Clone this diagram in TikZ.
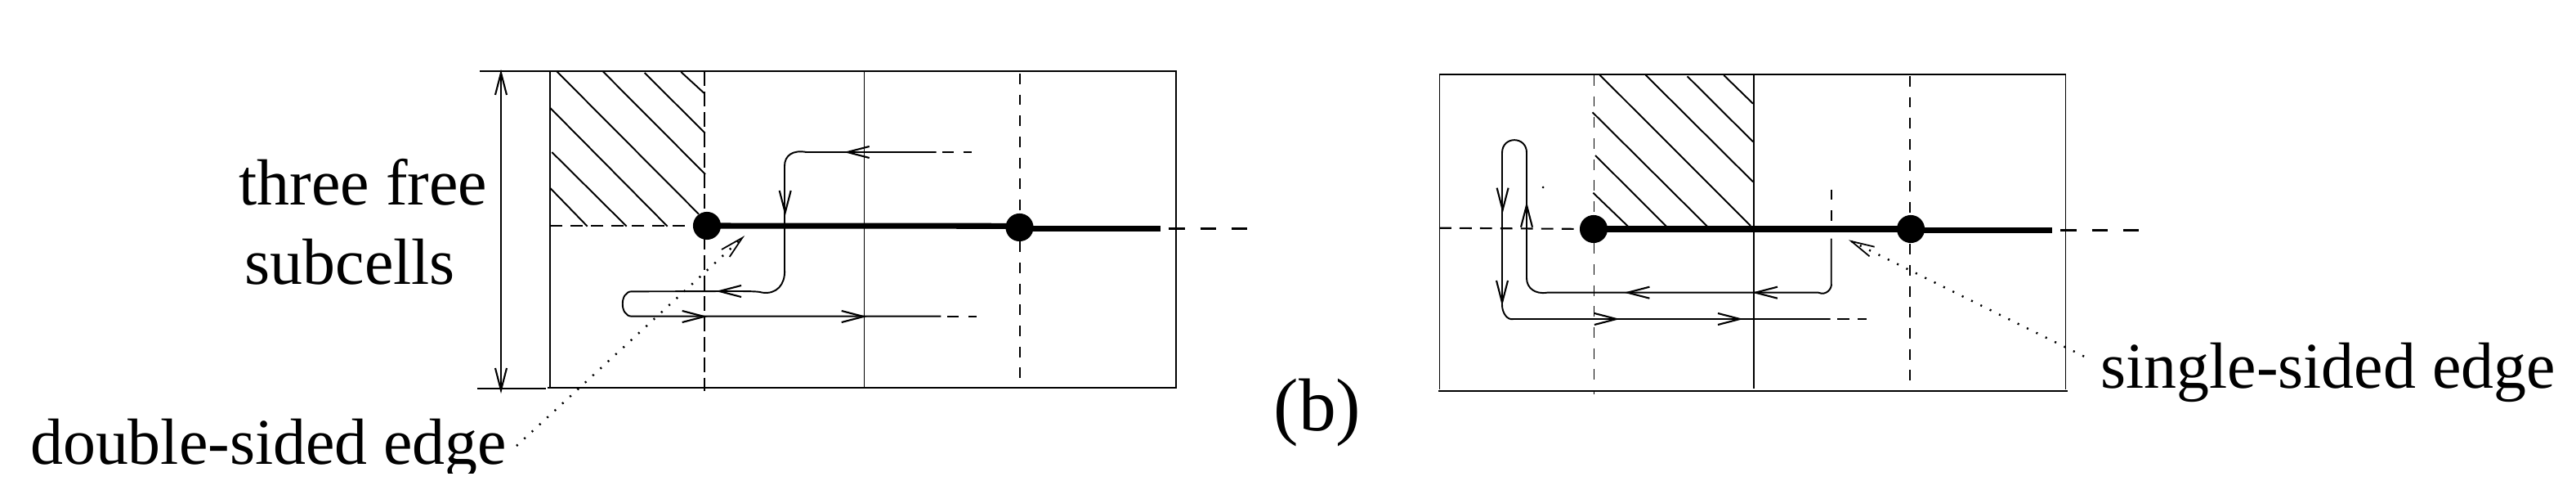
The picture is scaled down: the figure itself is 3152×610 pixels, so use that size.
\documentclass[tikz,border=0pt]{standalone}
\usepackage{fontspec}
\setmainfont{Liberation Serif}
\newcommand{\vhead}[3]{\draw[headline,shift={(#1,#2)},rotate=#3] (-27,-7) -- (0,0) -- (-27,7);}
\tikzset{
  box/.style={line width=0.75pt},
  hairline/.style={line width=0.5pt},
  midline/.style={line width=0.6pt},
  dashthin/.style={line width=0.5pt,dash pattern=on 3.65pt off 3.65pt},
  dashthicka/.style={line width=0.7pt,dash pattern=on 5.2pt off 1.9pt},
  dashthickb/.style={line width=0.7pt,dash pattern=on 3.65pt off 3.65pt},
  hdash/.style={line width=0.6pt,dash pattern=on 4.2pt off 2.9pt},
  thickedge/.style={line width=2pt},
  enddash/.style={line width=1pt,dash pattern=on 5.6pt off 5.4pt},
  hatch/.style={line width=0.55pt},
  route/.style={line width=0.55pt},
  headline/.style={line width=0.6pt},
  dotted line/.style={line width=0.7pt,dash pattern=on 0.6pt off 3pt},
  vertex/.style={circle,fill=black,minimum size=9.7pt,inner sep=0pt},
  label/.style={font=\fontsize{22.7}{26}\selectfont,inner sep=0pt,anchor=base west},
}
\begin{document}
\begin{tikzpicture}[x=0.01cm,y=-0.01cm]
\useasboundingbox (0,0) rectangle (3152,610);
% left
\draw[box] (587,87) -- (1439,87) -- (1439,474) -- (670,474);
\draw[box] (584,475) -- (668,475);
\draw[hairline] (673,87) -- (673,474);
\draw[hairline] (1057.5,87) -- (1057.5,474);
\draw[dashthicka] (862,87) -- (862,478);
\draw[dashthin] (1248,90) -- (1248,464);
\coordinate (arrT) at (613,89);
\coordinate (arrB) at (613,477);
\draw[hairline] (arrT) -- (arrB);
\vhead{613}{89}{90}
\vhead{613}{477}{-90}
\foreach \a/\b/\c/\d in {680.7/86.7/855/261.7,737.7/87.3/863/213,788.7/89/862.7/162.7,833.3/88/861.7/114,673.3/132/816.7/276.7,675.3/186/766.7/276.7,673.3/230/718.7/276.7}
  \draw[hatch] (\a,\b) -- (\c,\d);
\node[vertex] (a1) at (865,276) {};
\node[vertex] (a2) at (1247.5,278) {};
\coordinate (a0) at (673,276);
\coordinate (a3) at (1420,279.3);
\coordinate (a4) at (1526,279.3);
\draw[hdash] (a0) -- (a1);
\draw[thickedge] (a1.center) -- (1247.5,276.3);
\draw[thickedge] (a2.center |- a3) -- (a3);
\draw[enddash] (1430,279.3) -- (a4);
\draw[route] (1145.7,186) -- (986.7,186) .. controls (970,183) and (960,190) .. (960,203) -- (960,330)
  .. controls (961,348) and (950,360) .. (933,357.7) .. controls (925,355) and (900,356.3) .. (773,356.3)
  .. controls (758,356.3) and (758,386.7) .. (773,386.7) -- (1151.4,386.7);
\draw[midline] (1153,186) -- (1167,186) (1178.6,186) -- (1188.6,186);
\draw[midline] (1159,387) -- (1173,387) (1185,387) -- (1195,387);
\vhead{960.7}{260}{-90}
\vhead{880}{356}{180}
\vhead{861.7}{387}{0}
\vhead{1056.7}{387}{0}
\vhead{1036.7}{186}{180}
\coordinate (dt1) at (908.3,290.7);
\coordinate (ds1) at (632,545);
\draw[dotted line] (ds1) -- (dt1);
\draw[headline,line width=0.5pt] (883,305) -- (dt1) -- (892.7,314);
\node[label] (t1) at (292,250.7) {three free};
\node[label] (t2) at (299,347.3) {subcells};
\begin{scope}
\clip (0,500) rectangle (700,579);
\node[label] (t3) at (36.5,567.7) {double-sided edge};
\end{scope}
\node[label,font=\fontsize{26}{30}\selectfont] (t4) at (1558,526.7) {(b)};
% right
\draw[box] (1761,91) -- (2528,91);
\draw[box] (1760,478) -- (2530,478);
\draw[hairline] (1761.4,91) -- (1761.4,476);
\draw[hairline] (2527.5,91) -- (2527.5,476);
\draw[dashthin] (1950.4,92) -- (1950.4,482);
\draw[box] (2146,91) -- (2146,475);
\draw[dashthickb] (2336.8,93) -- (2336.8,465);
\foreach \a/\b/\c/\d in {1957.5/91.7/2142/276,2013.6/91.7/2145/222.3,2064.6/93.3/2145/173.3,2109.3/92/2145/126.7,1948.6/137.3/2089/276.7,1952/190/2039/276.7,1949.3/235.7/1992/276.7}
  \draw[hatch] (\a,\b) -- (\c,\d);
\node[vertex] (b1) at (1950,280) {};
\node[vertex] (b2) at (2338,280) {};
\coordinate (b0) at (1761,278.7);
\coordinate (b3) at (2510.7,281.3);
\coordinate (b4) at (2617,281.3);
\draw[hdash] (b0) -- (b1);
\draw[thickedge] (b1.center) -- (b2.center);
\draw[thickedge] (b2.center |- b3) -- (b3);
\draw[enddash] (2521,281.3) -- (b4);
\draw[route] (2240.7,291.7) -- (2240.7,346.7) .. controls (2242,352) and (2235,362) .. (2225,357.7)
  -- (1893,357.7) .. controls (1878,360) and (1868,352) .. (1868,340) -- (1868,186.7)
  .. controls (1868,166) and (1838,166) .. (1838,186.7) -- (1838,373)
  .. controls (1838,382) and (1844,392) .. (1852,390) -- (2239.6,390);
\draw[hairline] (2240.7,231.7) -- (2240.7,244.3) (2240.7,257.3) -- (2240.7,270);
\draw[midline] (2248,390) -- (2262.5,390) (2273,390) -- (2284,390);
\fill (1888,229) circle (1.5);
\vhead{1838.6}{256.7}{-90}
\vhead{1838}{370}{-90}
\vhead{1868}{250.7}{90}
\vhead{1991.4}{357.7}{180}
\vhead{2147.9}{357.7}{180}
\vhead{1977.9}{390}{0}
\vhead{2129}{390}{0}
\coordinate (dt2) at (2265.4,295);
\coordinate (ds2) at (2550,435.7);
\draw[dotted line] (ds2) -- (dt2);
\draw[headline,line width=0.5pt] (2293.6,301.7) -- (dt2) -- (2287.5,313.3);
\node[label] (t5) at (2569.7,475) {single-sided edge};
\end{tikzpicture}
\end{document}
